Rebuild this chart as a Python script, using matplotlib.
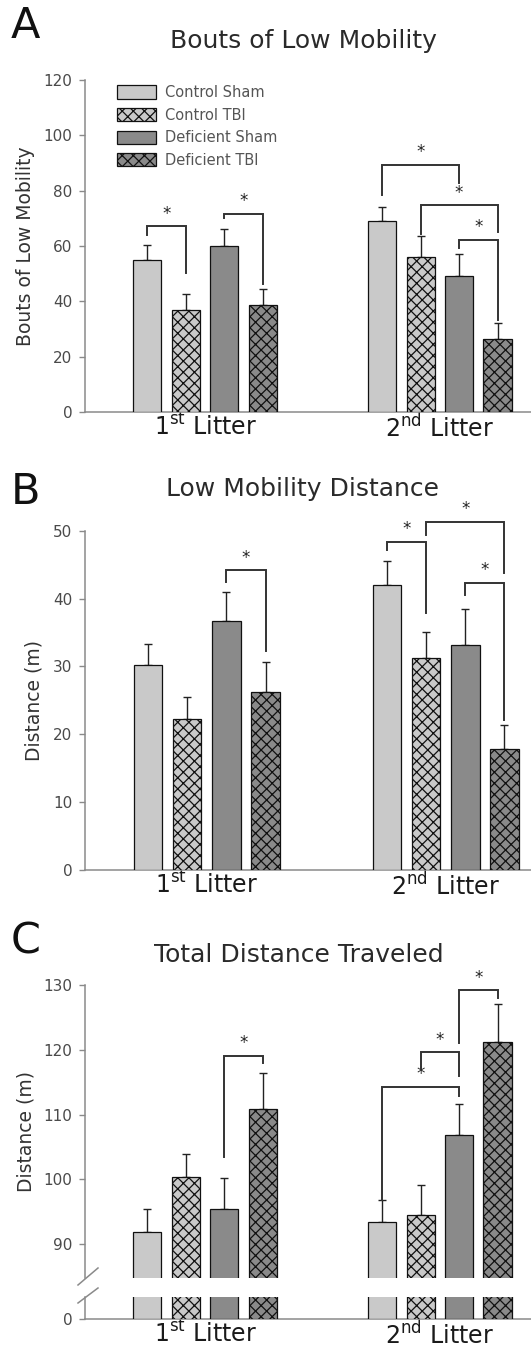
import matplotlib
matplotlib.use("Agg")
import matplotlib.pyplot as plt
from matplotlib.lines import Line2D
from matplotlib.patches import Patch
import numpy as np

plt.rcParams['font.family'] = ['DejaVu Sans']
plt.rcParams['mathtext.fontset'] = 'dejavusans'
plt.rcParams['hatch.linewidth'] = 0.9
plt.rcParams['hatch.color'] = '#111111'

# ---------------- data ----------------
groups = ["1$^{\\rm st}$ Litter", "2$^{\\rm nd}$ Litter"]
series = ["Control Sham", "Control TBI", "Deficient Sham", "Deficient TBI"]

# Panel A: Bouts of Low Mobility (rows = series, cols = litters)
bouts_mean = [[55.0, 69.0], [37.0, 56.0], [60.0, 49.0], [38.5, 26.5]]
bouts_err = [[5.5, 5.0], [5.5, 7.5], [6.0, 8.0], [6.0, 5.5]]
bouts_ticks = [0, 20, 40, 60, 80, 100, 120]

# Panel B: Low Mobility Distance (m)
lmd_mean = [[30.2, 42.0], [22.2, 31.3], [36.7, 33.2], [26.2, 17.9]]
lmd_err = [[3.1, 3.6], [3.3, 3.8], [4.2, 5.3], [4.4, 3.5]]
lmd_ticks = [0, 10, 20, 30, 40, 50]

# Panel C: Total Distance Traveled (m)
tdt_mean = [[91.9, 93.4], [100.4, 94.5], [95.4, 106.9], [110.8, 121.2]]
tdt_err = [[3.5, 3.4], [3.6, 4.7], [4.9, 4.7], [5.7, 5.8]]
tdt_ticks = [90, 100, 110, 120, 130]

# significance brackets: (litter, bar_i, bar_j, leg_i_bottom, top, leg_j_bottom)
bouts_sig = [(0, 0, 1, 64.0, 67.2, 50.2), (0, 2, 3, 70.0, 71.7, 46.4),
             (1, 0, 2, 78.3, 89.4, 82.8), (1, 1, 3, 64.5, 74.7, 64.9),
             (1, 2, 3, 59.1, 62.3, 33.2)]
lmd_sig = [(0, 2, 3, 42.5, 44.2, 32.3), (1, 0, 1, 47.1, 48.4, 37.8),
           (1, 1, 3, 49.3, 51.3, 43.7), (1, 2, 3, 40.5, 42.3, 22.1)]
tdt_sig = [(0, 2, 3, 103.5, 119.1, 117.9), (1, 0, 2, 96.8, 114.3, 112.9),
           (1, 1, 2, 117.2, 119.6, 115.9), (1, 2, 3, 121.0, 129.2, 128.0)]

# ---------------- style ----------------
fills = ['#c9c9c9', '#c9c9c9', '#8a8a8a', '#8a8a8a']
hatches = [None, 'xxx', None, 'xxx']
W, H = 531, 1351
PITCH = 1.0
WIDTH = 0.73
GSEP = 6.1
XLIM = (-3.12, 8.47)
XLIM_B = (-3.11, 8.28)
SPINE = '#8a8a8a'
TXT = '#4a4a4a'

fig = plt.figure(figsize=(W / 100, H / 100), dpi=100)


def rect(l, t, r, b):
    return [l / W, 1 - b / H, (r - l) / W, (b - t) / H]


def xpos(g, i):
    return g * GSEP + (i - 1.5) * PITCH


def draw_bars(ax, mean, err, with_err=True):
    for i in range(4):
        xs = [xpos(g, i) for g in range(2)]
        ax.bar(xs, mean[i], width=WIDTH, color=fills[i], edgecolor='#111111',
               linewidth=0.9, hatch=hatches[i], zorder=3, label=series[i])
        if with_err:
            ax.errorbar(xs, mean[i], yerr=[np.zeros(2), err[i]], fmt='none',
                        ecolor='#222222', elinewidth=1.0, capsize=2.6,
                        capthick=1.0, zorder=2)


def draw_sig(ax, sig):
    for g, i, j, bi, top, bj in sig:
        x1, x2 = xpos(g, i), xpos(g, j)
        ax.plot([x1, x1, x2, x2], [bi, top, top, bj], color='#333333',
                lw=1.4, clip_on=False, zorder=4, solid_joinstyle='miter')
        ax.annotate('*', xy=((x1 + x2) / 2, top), xytext=(0, 2.5),
                    textcoords='offset points', ha='center', va='bottom',
                    fontsize=12, color='#222222', annotation_clip=False)


def style_axes(ax, ticks, ylim, xlim=XLIM, bottom=True):
    ax.set_xlim(*xlim)
    ax.set_ylim(*ylim)
    ax.set_yticks(ticks)
    ax.spines['top'].set_visible(False)
    ax.spines['right'].set_visible(False)
    for s in ['left', 'bottom']:
        ax.spines[s].set_color(SPINE)
        ax.spines[s].set_linewidth(1.1)
    ax.spines['bottom'].set_visible(bottom)
    ax.tick_params(axis='y', direction='out', length=4, width=1,
                   color=SPINE, labelsize=11, labelcolor=TXT, pad=5)
    ax.tick_params(axis='x', length=0, labelsize=17, labelcolor='#1a1a1a',
                   pad=1)
    ax.set_xticks([xpos(0, 1.5), xpos(1, 1.5)])
    if bottom:
        ax.set_xticklabels(groups)
    else:
        ax.set_xticklabels([])


def panel_text(letter, ly, title, tx, ty):
    fig.text(11 / W, 1 - ly / H, letter, fontsize=31, color='#111111',
             ha='left', va='center')
    fig.text(tx / W, 1 - ty / H, title, fontsize=18, color='#2a2a2a',
             ha='center', va='center')


# ---------------- Panel A ----------------
axA = fig.add_axes(rect(85, 80, 531, 412))
draw_bars(axA, bouts_mean, bouts_err)
draw_sig(axA, bouts_sig)
style_axes(axA, bouts_ticks, (0, 120))
axA.set_ylabel('Bouts of Low Mobility', fontsize=13.5, color='#333333')
axA.yaxis.set_label_coords((35 - 85) / 446, 0.5)
handles = [Patch(facecolor=fills[i], edgecolor='#111111', hatch=hatches[i],
                 linewidth=0.9) for i in range(4)]
leg = axA.legend(handles, series, loc='upper left',
                 bbox_to_anchor=(32 / 446, 1 - 5 / 332), frameon=False,
                 fontsize=10.5, handlelength=2.67, handleheight=1.0,
                 labelspacing=0.52, handletextpad=0.62, borderaxespad=0,
                 borderpad=0)
for t in leg.get_texts():
    t.set_color('#555555')
panel_text('A', 26, 'Bouts of Low Mobility', 303, 41)

# ---------------- Panel B ----------------
axB = fig.add_axes(rect(85, 530.7, 531, 870))
draw_bars(axB, lmd_mean, lmd_err)
draw_sig(axB, lmd_sig)
style_axes(axB, lmd_ticks, (0, 50), xlim=XLIM_B)
axB.set_ylabel('Distance (m)', fontsize=13.5, color='#333333')
axB.yaxis.set_label_coords((43 - 85) / 446, 0.5)
panel_text('B', 492, 'Low Mobility Distance', 303, 489)

# ---------------- Panel C (broken axis) ----------------
axC = fig.add_axes(rect(85, 985, 531, 1278.3))
draw_bars(axC, tdt_mean, tdt_err)
draw_sig(axC, tdt_sig)
style_axes(axC, tdt_ticks, (84.75, 130), bottom=False)
axC.set_ylabel('Distance (m)', fontsize=13.5, color='#333333')
axC.yaxis.set_label_coords((35 - 85) / 446, 0.5)

axC2 = fig.add_axes(rect(85, 1296.7, 531, 1319))
draw_bars(axC2, tdt_mean, tdt_err, with_err=False)
style_axes(axC2, [0], (0, 3.44))
panel_text('C', 941, 'Total Distance Traveled', 299, 955)

# break marks
for (x0, y0, x1, y1) in [(78, 1285, 98, 1268), (78, 1303, 98, 1288)]:
    fig.add_artist(Line2D([x0 / W, x1 / W], [1 - y0 / H, 1 - y1 / H],
                          color=SPINE, lw=1.1, transform=fig.transFigure))

fig.savefig('out.png', dpi=100, facecolor='white')
